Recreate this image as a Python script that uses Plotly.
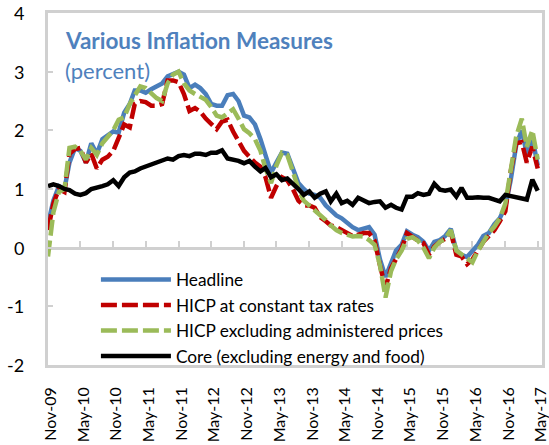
import pandas as pd
import plotly.graph_objects as go

# ---- data (monthly, Nov-2009 .. May-2017), percent y/y ----
months = pd.date_range("2009-11-01", "2017-05-01", freq="MS")

headline = [0.4, 0.8, 1.05, 1.0, 1.45, 1.7, 1.65, 1.45, 1.78, 1.6,
            1.85, 1.92, 1.98, 1.96, 2.3, 2.45, 2.68, 2.68, 2.64, 2.7,
            2.75, 2.8, 2.92, 2.97, 3.0, 2.95, 2.72, 2.78, 2.72, 2.62,
            2.45, 2.42, 2.42, 2.6, 2.62, 2.5, 2.25, 2.22, 2.1, 1.85,
            1.6, 1.28, 1.45, 1.62, 1.6, 1.35, 1.1, 1.0, 0.92, 0.9,
            0.85, 0.72, 0.65, 0.55, 0.5, 0.42, 0.35, 0.3, 0.33, 0.35,
            0.22, -0.2, -0.5, -0.25, -0.05, 0.05, 0.28, 0.22, 0.18, 0.1,
            -0.05, 0.1, 0.13, 0.2, 0.32, -0.05, -0.12, -0.16, -0.05, 0.05,
            0.2, 0.25, 0.4, 0.5, 0.7, 1.15, 1.75, 2.0, 1.6, 1.88, 1.4]

const_tax = [0.3, 0.75, 1.0, 0.95, 1.6, 1.68, 1.7, 1.45, 1.6, 1.35,
             1.5, 1.55, 1.65, 1.85, 2.1, 2.05, 2.45, 2.5, 2.48, 2.42,
             2.42, 2.45, 2.85, 2.85, 2.82, 2.62, 2.33, 2.38, 2.32, 2.2,
             2.12, 2.02, 2.15, 2.18, 1.98, 1.82, 1.65, 1.55, 1.45, 1.38,
             1.2, 0.85, 1.05, 1.2, 1.15, 1.0, 0.8, 0.72, 0.72, 0.68,
             0.52, 0.45, 0.38, 0.35, 0.3, 0.25, 0.2, 0.22, 0.25, 0.25,
             0.12, -0.3, -0.68, -0.35, -0.2, -0.02, 0.25, 0.18, 0.12, 0.08,
             -0.12, 0.02, 0.1, 0.15, 0.27, -0.12, -0.15, -0.28, -0.2, -0.05,
             0.1, 0.2, 0.3, 0.45, 0.62, 1.3, 1.78, 1.8, 1.45, 1.72, 1.35]

excl_admin = [-0.15, 0.6, 0.95, 1.0, 1.7, 1.72, 1.65, 1.5, 1.7, 1.58,
              1.78, 1.9, 2.0, 2.18, 2.22, 2.45, 2.6, 2.75, 2.72, 2.62,
              2.55, 2.5, 2.8, 2.95, 3.0, 2.8, 2.68, 2.62, 2.58, 2.52,
              2.4, 2.25, 2.22, 2.3, 2.36, 2.2, 2.02, 1.95, 1.85, 1.65,
              1.35, 1.1, 1.4, 1.62, 1.58, 1.3, 1.0, 0.8, 0.72, 0.65,
              0.55, 0.47, 0.38, 0.3, 0.25, 0.22, 0.19, 0.2, 0.19, 0.13,
              0.05, -0.3, -0.85, -0.4, -0.2, -0.05, 0.15, 0.18, 0.12, 0.0,
              -0.18, 0.0, 0.1, 0.15, 0.3, -0.05, -0.12, -0.18, -0.25, -0.05,
              0.1, 0.25, 0.36, 0.5, 0.75, 1.3, 1.9, 2.2, 1.72, 2.0, 1.5]

core = [1.05, 1.08, 1.05, 1.0, 0.98, 0.92, 0.9, 0.93, 1.0, 1.02,
        1.05, 1.08, 1.15, 1.05, 1.2, 1.28, 1.3, 1.35, 1.38, 1.42,
        1.46, 1.48, 1.52, 1.5, 1.56, 1.58, 1.56, 1.6, 1.6, 1.58,
        1.62, 1.62, 1.66, 1.52, 1.5, 1.48, 1.44, 1.48, 1.38, 1.3,
        1.36, 1.2, 1.25, 1.15, 1.18, 1.1, 1.0, 0.9, 0.96, 0.85,
        0.92, 0.96, 0.79, 0.92, 0.76, 0.8, 0.73, 0.85, 0.8, 0.76,
        0.78, 0.79, 0.68, 0.73, 0.68, 0.65, 0.87, 0.87, 0.93, 0.9,
        0.92, 1.09, 0.99, 0.97, 0.99, 0.87, 1.02, 0.85, 0.85, 0.86,
        0.85, 0.85, 0.82, 0.79, 0.9, 0.88, 0.86, 0.85, 0.82, 1.16, 0.97]

series_names = ["Headline", "HICP at constant tax rates",
                "HICP excluding administered prices",
                "Core (excluding energy and food)"]

tick_dates = pd.date_range("2009-11-01", "2017-05-01", freq="6MS")
tick_labels = [d.strftime("%b-%y") for d in tick_dates]
y_ticks = [-2, -1, 0, 1, 2, 3, 4]
y_tick_labels = ["-2", "-1", "0", "1", "2", "3", "4"]

title_text = "Various Inflation Measures"
subtitle_text = "(percent)"

# ---- styling ----
FONT = "Lato"
BLUE = "#4A7EBB"
RED = "#C00000"
GREEN = "#9BBB59"
AXIS = "#D0D0D0"
TITLE_BLUE = "#4F81BD"

Y_MIN, Y_MAX = -2, 4

fig = go.Figure()
fig.add_trace(go.Scatter(x=months, y=headline, name=series_names[0], mode="lines",
                         line=dict(color=BLUE, width=4.5)))
fig.add_trace(go.Scatter(x=months, y=const_tax, name=series_names[1], mode="lines",
                         line=dict(color=RED, width=4.5, dash="16px,5px")))
fig.add_trace(go.Scatter(x=months, y=excl_admin, name=series_names[2], mode="lines",
                         line=dict(color=GREEN, width=4.5, dash="16px,5px")))
fig.add_trace(go.Scatter(x=months, y=core, name=series_names[3], mode="lines",
                         xaxis="x2", line=dict(color="black", width=4.5)))

x_range = ["2009-11-01", "2017-05-25"]

# y tick labels placed left of the axis, at their data values
y_label_annotations = [
    dict(text=lab, xref="paper", yref="y", x=-0.0445, y=val,
         xanchor="right", yanchor="middle", showarrow=False,
         font=dict(family=FONT, size=18, color="black"))
    for val, lab in zip(y_ticks, y_tick_labels)
]

fig.update_layout(
    width=549, height=445, autosize=False,
    margin=dict(l=48, r=7, t=13, b=80, autoexpand=False),
    paper_bgcolor="white", plot_bgcolor="white",
    font=dict(family=FONT, size=17, color="black"),
    showlegend=True,
    legend=dict(x=0.097, y=0.293, xanchor="left", yanchor="top",
                bgcolor="rgba(0,0,0,0)", font=dict(family=FONT, size=17.3),
                itemwidth=70, tracegroupgap=0),
    xaxis=dict(type="date", range=x_range, tickvals=tick_dates, ticktext=tick_labels,
               tickangle=-90, showline=True, linecolor=AXIS, linewidth=2.5, mirror=True,
               ticks="", showgrid=False, zeroline=False, ticklabelstandoff=13,
               ticklabelshift=3, automargin=False,
               tickfont=dict(family=FONT, size=16, color="black")),
    # category axis crossing the value axis at 0 (line + upward tick marks)
    xaxis2=dict(type="date", range=x_range, overlaying="x", anchor="free",
                position=(0 - Y_MIN) / (Y_MAX - Y_MIN), tickvals=tick_dates,
                ticks="inside", ticklen=6,
                tickwidth=2, tickcolor=AXIS, showticklabels=False, showline=True,
                linecolor=AXIS, linewidth=2.5, showgrid=False, zeroline=False,
                layer="below traces", automargin=False),
    yaxis=dict(range=[Y_MIN, Y_MAX], tickvals=y_ticks, showticklabels=False,
               ticks="inside", ticklen=5, tickwidth=2, tickcolor=AXIS,
               showline=True, linecolor=AXIS, linewidth=2.5, mirror=True,
               showgrid=False, zeroline=False, automargin=False),
    annotations=[
        dict(text="<b>" + title_text + "</b>", xref="paper", yref="paper",
             x=0.03, y=0.923, xanchor="left", yanchor="middle", showarrow=False,
             font=dict(family=FONT, size=22.5, color=TITLE_BLUE)),
        dict(text=subtitle_text, xref="paper", yref="paper",
             x=0.03, y=0.838, xanchor="left", yanchor="middle", showarrow=False,
             font=dict(family=FONT, size=22, color=TITLE_BLUE)),
    ] + y_label_annotations,
)

fig.write_html("out.html",
               config={"displayModeBar": False},
               post_script="document.body.style.margin='0px';"
                           "document.body.style.overflow='hidden';")
